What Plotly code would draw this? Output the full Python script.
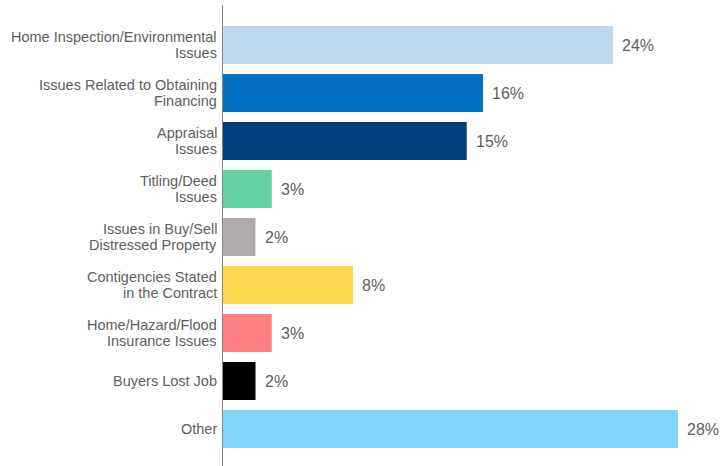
import plotly.graph_objects as go

categories = [
    "Home Inspection/Environmental<br>Issues",
    "Issues Related to Obtaining<br>Financing",
    "Appraisal<br>Issues",
    "Titling/Deed<br>Issues",
    "Issues in Buy/Sell<br>Distressed Property",
    "Contigencies Stated<br>in the Contract",
    "Home/Hazard/Flood<br>Insurance Issues",
    "Buyers Lost Job",
    "Other",
]
values = [24, 16, 15, 3, 2, 8, 3, 2, 28]
value_labels = ["24%", "16%", "15%", "3%", "2%", "8%", "3%", "2%", "28%"]
colors = ["#BDD7EE", "#0070C0", "#003F7F", "#62D2A0", "#AFABAB",
          "#FFD84D", "#FF8080", "#000000", "#80D4F8"]

FONT = "Liberation Sans, Arial"
TXT = "#606060"

fig = go.Figure()
fig.add_trace(go.Bar(
    y=categories, x=values, orientation="h",
    marker=dict(color=colors, line=dict(width=0)),
    width=0.79, hoverinfo="skip",
))
for c, v, t in zip(categories, values, value_labels):
    fig.add_annotation(x=v, y=c, text=t, showarrow=False, xanchor="left",
                       xshift=7, font=dict(family=FONT, size=16, color=TXT))

# category labels, line by line with tighter spacing
LINE = 16
for c in categories:
    lines = c.split("<br>")
    k = len(lines)
    for i, ln in enumerate(lines):
        off = ((k - 1) / 2 - i) * LINE
        fig.add_annotation(x=0, xref="paper", y=c, yref="y", text=ln,
                           showarrow=False, xanchor="right", xshift=-4,
                           yshift=off,
                           font=dict(family=FONT, size=14.5, color=TXT))

n = len(categories)
fig.update_layout(
    width=721, height=466,
    margin=dict(l=223, r=0, t=5, b=0),
    paper_bgcolor="white", plot_bgcolor="white",
    showlegend=False,
    font=dict(family=FONT, size=14.5, color=TXT),
    xaxis=dict(range=[0, 30.65], visible=False, showgrid=False, zeroline=False),
    yaxis=dict(
        type="category",
        range=[n - 1 + 37 / 48, -40 / 48],
        showgrid=False, zeroline=False,
        showline=True, linecolor="#888888", linewidth=1,
        ticks="", showticklabels=False,
    ),
)
fig.write_html("out.html")
